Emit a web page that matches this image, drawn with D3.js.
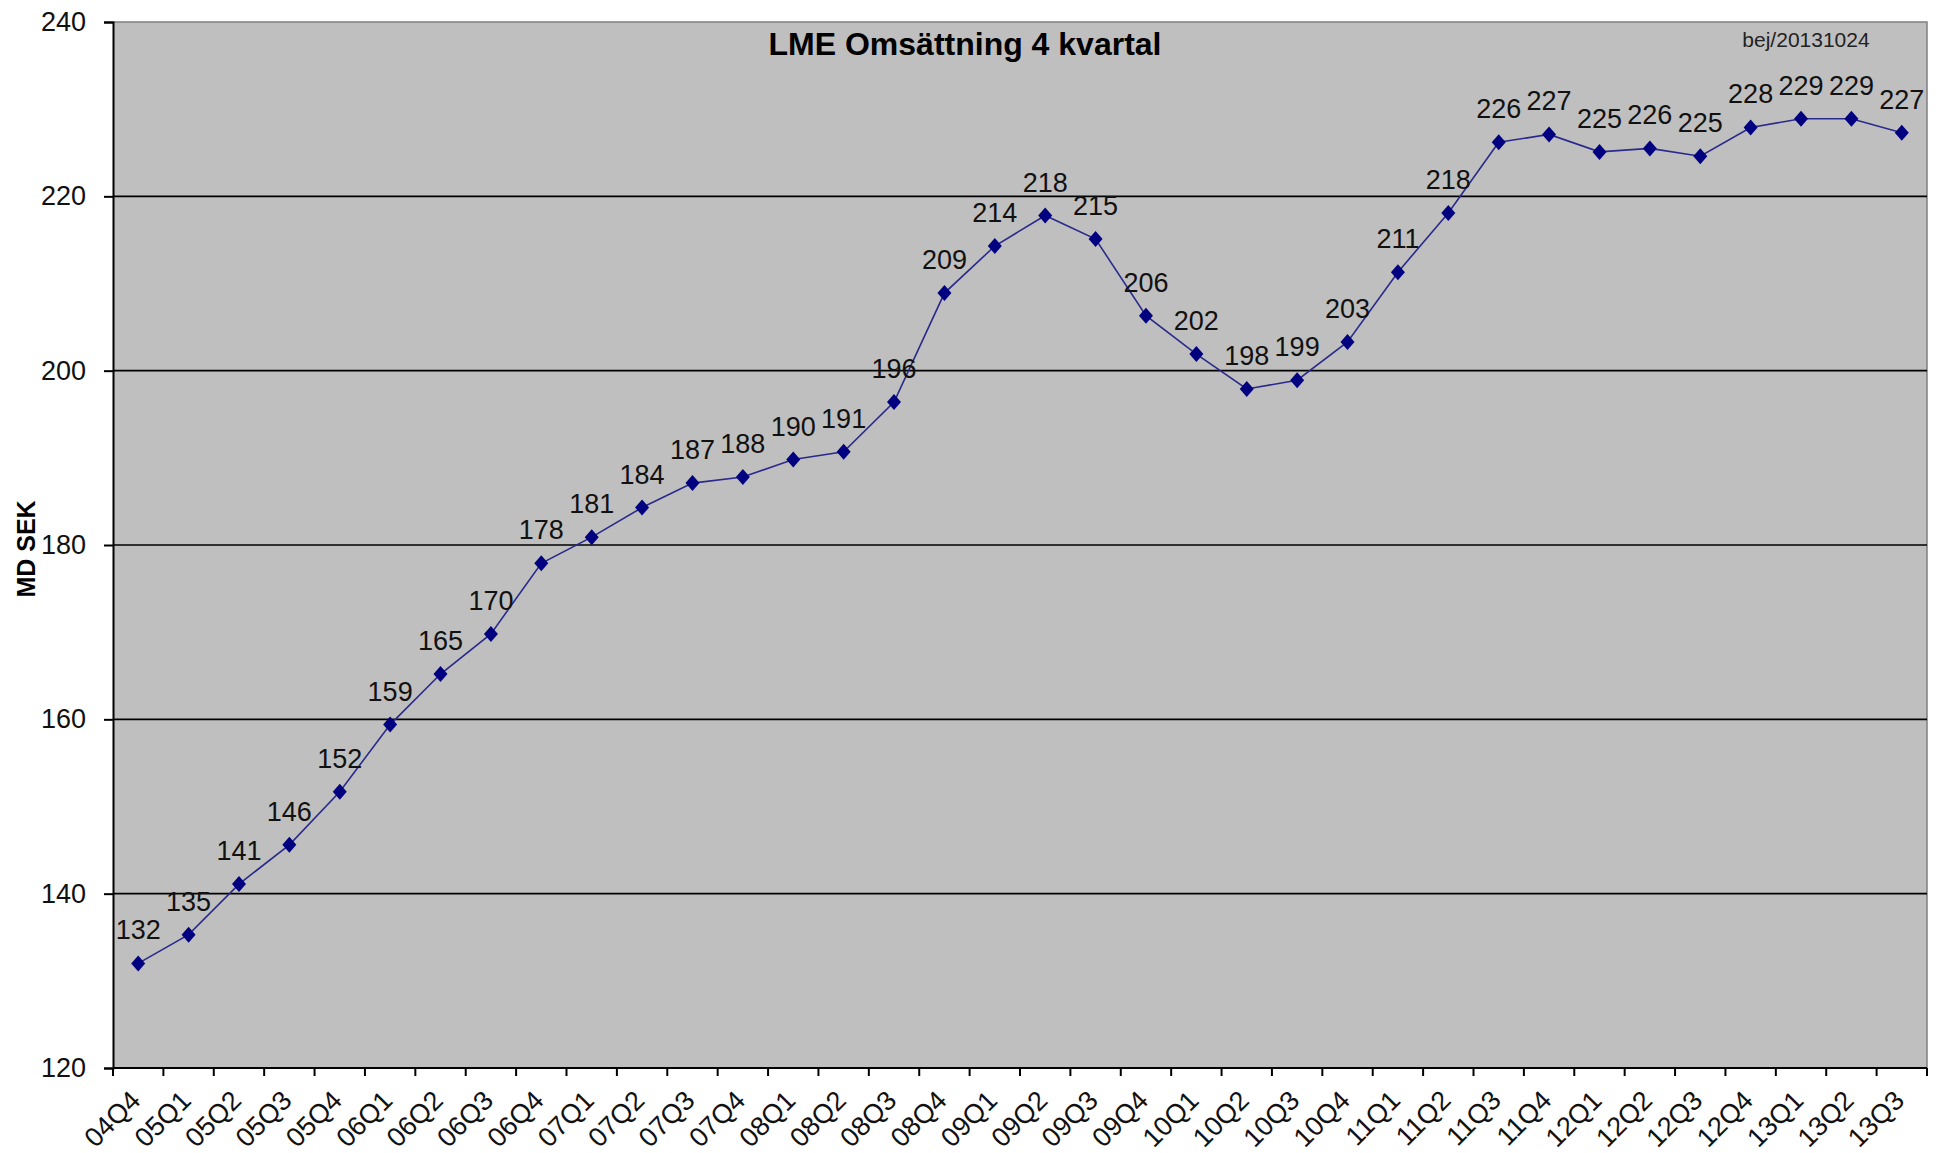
<!DOCTYPE html>
<html lang="sv">
<head>
    <meta charset="UTF-8"/>
    <title>LME Omsättning 4 kvartal</title>
    <script src="https://d3js.org/d3.v7.min.js"></script>
    <style>
        body, html {
            margin: 0;
            padding: 0;
            background: #fff;
            font-family: "Liberation Sans", Arial, sans-serif;
            overflow: hidden;
        }
        svg {
            display: block;
        }
    </style>
</head>
<body>
<svg class="chart" width="1942" height="1153"></svg>
<script>
    // quarters on the x axis
    const quarters = [
        "04Q4", "05Q1", "05Q2", "05Q3", "05Q4", "06Q1", "06Q2", "06Q3", "06Q4",
        "07Q1", "07Q2", "07Q3", "07Q4", "08Q1", "08Q2", "08Q3", "08Q4",
        "09Q1", "09Q2", "09Q3", "09Q4", "10Q1", "10Q2", "10Q3", "10Q4",
        "11Q1", "11Q2", "11Q3", "11Q4", "12Q1", "12Q2", "12Q3", "12Q4",
        "13Q1", "13Q2", "13Q3"
    ];
    // rolling 4-quarter turnover, MD SEK
    const turnover = [
        132.0, 135.3, 141.1, 145.6, 151.7, 159.4, 165.2, 169.8, 177.9,
        180.9, 184.3, 187.1, 187.8, 189.8, 190.7, 196.4, 208.9,
        214.3, 217.8, 215.1, 206.3, 201.9, 197.9, 198.9, 203.3,
        211.3, 218.1, 226.2, 227.1, 225.1, 225.5, 224.6, 227.9,
        228.9, 228.9, 227.3
    ];
    const yTicks = [120, 140, 160, 180, 200, 220, 240];

    const svg = d3.select(".chart");
    const margin = {top: 22, right: 15, bottom: 85, left: 113};
    const width = 1942, height = 1153;

    const x = d3.scaleBand()
        .domain(quarters)
        .range([margin.left, width - margin.right])
        .padding(0);
    const y = d3.scaleLinear()
        .domain([120, 240])
        .range([height - margin.bottom, margin.top]);

    const x0 = margin.left, x1 = width - margin.right;
    const y0 = y(120), y1 = y(240);

    // plot background
    svg.append("rect")
        .attr("x", x0).attr("y", y1)
        .attr("width", x1 - x0).attr("height", y0 - y1)
        .attr("fill", "#bfbfbf");

    // top and right border (grey)
    svg.append("path")
        .attr("d", `M${x0},${y1}H${x1}V${y0}`)
        .attr("fill", "none")
        .attr("stroke", "#808080")
        .attr("stroke-width", 1.5);

    // gridlines
    svg.append("g")
        .selectAll("line")
        .data(yTicks.filter(d => d > 120 && d < 240))
        .join("line")
        .attr("x1", x0).attr("x2", x1)
        .attr("y1", d => y(d)).attr("y2", d => y(d))
        .attr("stroke", "#000")
        .attr("stroke-width", 1.6);

    // y axis
    const yAxis = svg.append("g")
        .attr("transform", `translate(${x0},0)`)
        .call(d3.axisLeft(y).tickValues(yTicks).tickSize(9).tickPadding(18).tickFormat(d3.format("d")));
    yAxis.select(".domain").attr("stroke", "#000").attr("stroke-width", 2);
    yAxis.selectAll(".tick line").attr("stroke", "#000").attr("stroke-width", 2);
    yAxis.selectAll(".tick text")
        .attr("font-family", "Liberation Sans, Arial, sans-serif")
        .attr("font-size", 27)
        .attr("fill", "#111");

    // x axis: ticks between categories
    const bounds = quarters.map(q => x(q)).concat([x1]);
    svg.append("g")
        .selectAll("line")
        .data(bounds)
        .join("line")
        .attr("x1", d => d).attr("x2", d => d)
        .attr("y1", y0).attr("y2", y0 + 8)
        .attr("stroke", "#000")
        .attr("stroke-width", 2);
    svg.append("line")
        .attr("x1", x0).attr("x2", x1)
        .attr("y1", y0).attr("y2", y0)
        .attr("stroke", "#000")
        .attr("stroke-width", 2);

    svg.append("g")
        .selectAll("text")
        .data(quarters)
        .join("text")
        .attr("transform", d => `translate(${x(d) + x.bandwidth() / 2 + 4},${y0 + 34}) rotate(-45)`)
        .attr("text-anchor", "end")
        .attr("font-size", 27)
        .attr("fill", "#111")
        .text(d => d);

    // y axis title
    svg.append("text")
        .attr("transform", `translate(26,${(y0 + y1) / 2 + 4}) rotate(-90)`)
        .attr("text-anchor", "middle")
        .attr("dy", "0.35em")
        .attr("font-size", 25)
        .attr("font-weight", "bold")
        .attr("fill", "#000")
        .text("MD SEK");

    // series line
    const line = d3.line()
        .x((d, i) => x(quarters[i]) + x.bandwidth() / 2)
        .y(d => y(d));
    svg.append("path")
        .datum(turnover)
        .attr("fill", "none")
        .attr("stroke", "#2a2a8c")
        .attr("stroke-width", 1.6)
        .attr("d", line);

    // diamond markers
    svg.append("g")
        .selectAll("path")
        .data(turnover)
        .join("path")
        .attr("transform", (d, i) => `translate(${x(quarters[i]) + x.bandwidth() / 2},${y(d)})`)
        .attr("d", "M0,-8L7,0L0,8L-7,0Z")
        .attr("fill", "#000080");

    // data labels
    svg.append("g")
        .selectAll("text")
        .data(turnover)
        .join("text")
        .attr("x", (d, i) => x(quarters[i]) + x.bandwidth() / 2)
        .attr("y", d => y(d) - 24)
        .attr("text-anchor", "middle")
        .attr("font-size", 27)
        .attr("fill", "#111")
        .text(d => d3.format(".0f")(d));

    // title and stamp
    svg.append("text")
        .attr("x", 965).attr("y", 55)
        .attr("text-anchor", "middle")
        .attr("font-size", 32)
        .attr("font-weight", "bold")
        .attr("fill", "#000")
        .text("LME Omsättning 4 kvartal");
    svg.append("text")
        .attr("x", 1806).attr("y", 47)
        .attr("text-anchor", "middle")
        .attr("font-size", 21)
        .attr("fill", "#222")
        .text("bej/20131024");
</script>
</body>
</html>
